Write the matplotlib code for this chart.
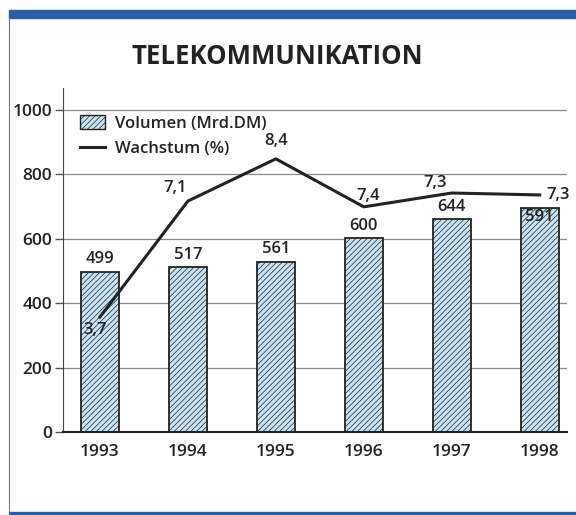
import matplotlib.pyplot as plt
import matplotlib.patches as mpatches
from matplotlib.lines import Line2D

plt.rcParams['font.family'] = ['Open Sans', 'DejaVu Sans']
plt.rcParams['hatch.color'] = '#b3daf2'
plt.rcParams['hatch.linewidth'] = 0.5

years = ['1993', '1994', '1995', '1996', '1997', '1998']
# bar heights as drawn in the picture, and the printed labels
volume_drawn = [497, 512, 528, 602, 661, 696]
volume_labels = ['499', '517', '561', '600', '644', '591']
# growth line as drawn (percent scale), and the printed labels
growth_drawn = [3.57, 7.17, 8.48, 6.99, 7.42, 7.36]
growth_labels = ['3,7', '7,1', '8,4', '7,4', '7,3', '7,3']

fig = plt.figure(figsize=(5.76, 5.15), dpi=100)

# frame: blue band at top and bottom, thin grey line on the left
fig.patches.append(mpatches.Rectangle((9 / 576, 1 - 18 / 515), 1, 8 / 515, transform=fig.transFigure,
                                      color='#2a5ca8', zorder=0))
fig.patches.append(mpatches.Rectangle((9 / 576, 1 - 515 / 515), 1, 3 / 515, transform=fig.transFigure,
                                      color='#2a5ca8', zorder=0))
fig.lines.append(Line2D([9 / 576, 9 / 576], [1 - 18 / 515, 1 - 512 / 515], transform=fig.transFigure,
                        color='#777777', lw=0.8))

fig.text(277 / 576, 1 - 57 / 515, 'TELEKOMMUNIKATION', ha='center', va='center',
         fontsize=18.5, fontweight='bold', color='#222222')

ax = fig.add_axes([63 / 576, 1 - 432 / 515, 504 / 576, 344 / 515])
x = list(range(len(years)))

ax.bar(x, volume_drawn, width=0.43, color='#c8e5f8', edgecolor='#222222', linewidth=1.3,
       hatch='//////', zorder=3)

ax.set_xlim(-0.42, 5.31)
ax.set_ylim(0, 1068)
ax.set_yticks([0, 200, 400, 600, 800, 1000])
ax.set_xticks(x)
ax.set_xticklabels(years)
ax.tick_params(axis='x', length=0, pad=9, labelsize=12.5, labelcolor='#222222')
ax.tick_params(axis='y', length=6, width=1, pad=2, labelsize=12.5, labelcolor='#222222', color='#555555')
for lab in ax.get_xticklabels() + ax.get_yticklabels():
    lab.set_fontweight('semibold')

for y in [200, 400, 600, 800, 1000]:
    ax.axhline(y, color='#8a8a8a', lw=0.9, zorder=1)

ax.spines['top'].set_visible(False)
ax.spines['right'].set_visible(False)
ax.spines['left'].set_color('#444444')
ax.spines['bottom'].set_color('#222222')
ax.spines['bottom'].set_linewidth(1.5)
ax.spines['bottom'].set_zorder(4)

# growth line on its own scale (0-10 % matches 0-1000)
ax2 = ax.twinx()
ax2.set_ylim(0, 10.68)
ax2.axis('off')
ax2.plot(x, growth_drawn, color='#222222', lw=2.2, zorder=5)

# bar value labels
bar_offsets = [14, 14, 14, 14, 14, -54]
for i, lab in enumerate(volume_labels):
    ax.text(x[i], volume_drawn[i] + bar_offsets[i], lab, ha='center', va='bottom',
            fontsize=12, fontweight='semibold', color='#222222', zorder=6)

# growth labels
growth_pos = [(-0.05, -0.15, 'center', 'top'), (-0.15, 0.15, 'center', 'bottom'),
              (0.0, 0.3, 'center', 'bottom'), (0.05, 0.08, 'center', 'bottom'),
              (-0.19, 0.05, 'center', 'bottom'), (0.08, 0.0, 'left', 'center')]
for i, lab in enumerate(growth_labels):
    dx, dy, ha, va = growth_pos[i]
    ax2.text(x[i] + dx, growth_drawn[i] + dy, lab, ha=ha, va=va,
             fontsize=12, fontweight='semibold', color='#222222', zorder=6)

# legend
handles = [mpatches.Patch(facecolor='#c8e5f8', edgecolor='#222222', hatch='//////', label='Volumen (Mrd.DM)'),
           Line2D([0], [0], color='#222222', lw=2.2, label='Wachstum (%)')]
leg = ax.legend(handles=handles, loc='upper left', bbox_to_anchor=(0.0, 0.97), frameon=False,
                prop={'size': 12, 'weight': 'semibold'}, handlelength=1.5, handleheight=0.9,
                handletextpad=0.6, labelspacing=0.55, borderaxespad=0.6)
for t in leg.get_texts():
    t.set_color('#222222')

plt.savefig('out.png', dpi=100)
